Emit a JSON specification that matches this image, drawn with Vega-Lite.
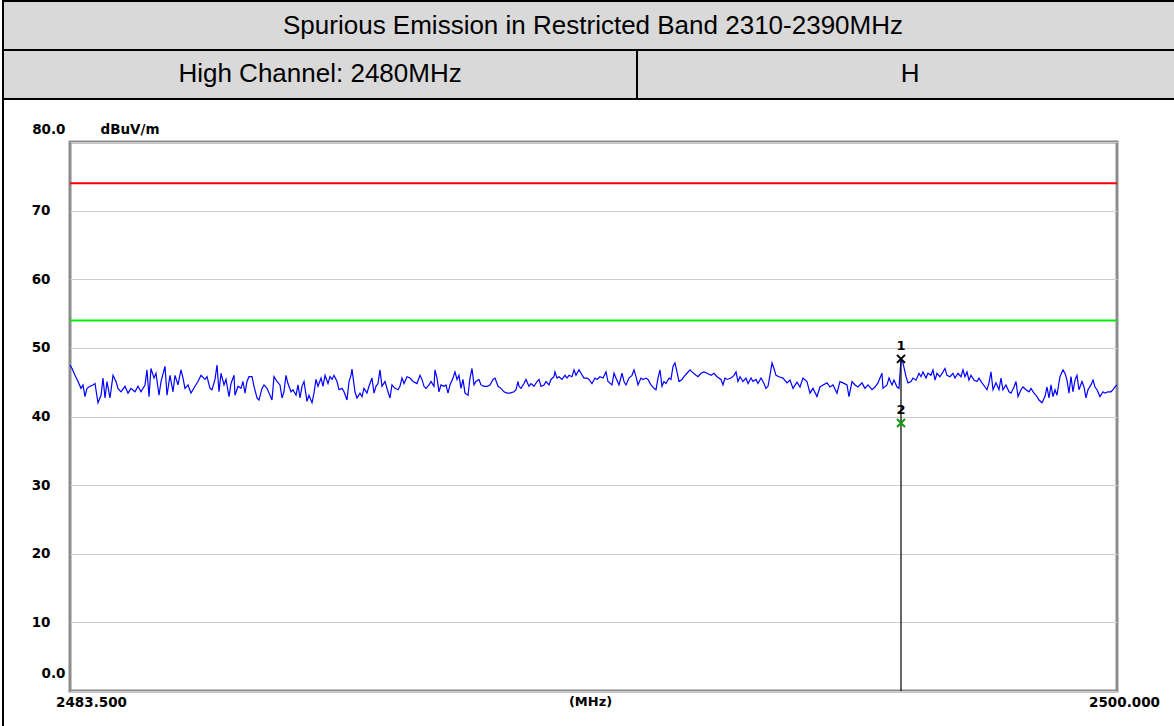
{
  "$schema": "https://vega.github.io/schema/vega-lite/v6.json",
  "background": "white",
  "autosize": {"type": "none"},
  "padding": {"left": 70, "top": 142, "right": 57, "bottom": 35},
  "width": 1047,
  "height": 549,
  "view": {"stroke": "#8c8c8c", "strokeWidth": 3, "fill": "white"},
  "datasets": {
    "table": [
      {"cell": "title", "text": "Spurious Emission in Restricted Band 2310-2390MHz", "x0": 0, "x1": 1, "y0": 0, "y1": 1, "xc": 0.5, "yc": 0.5},
      {"cell": "channel", "text": "High Channel: 2480MHz", "x0": 0, "x1": 0.5373, "y0": 1, "y1": 2, "xc": 0.2687, "yc": 1.5},
      {"cell": "polarity", "text": "H", "x0": 0.5373, "x1": 1, "y0": 1, "y1": 2, "xc": 0.7687, "yc": 1.5},
      {"cell": "body", "text": "", "x0": 0, "x1": 1, "y0": 2, "y1": 15, "xc": 0.5, "yc": 8}
    ],
    "limits": [
      {"limit": "Peak limit", "level": 74},
      {"limit": "AV limit", "level": 54}
    ],
    "markers": [
      {"marker": "1", "freq": 2496.596, "level": 48.4},
      {"marker": "2", "freq": 2496.596, "level": 39.05}
    ],
    "trace": [
      {"freq": 2483.500, "level": 47.5}, {"freq": 2483.532, "level": 47.0}, {"freq": 2483.579, "level": 46.0}, {"freq": 2483.626, "level": 45.1},
      {"freq": 2483.673, "level": 44.1}, {"freq": 2483.705, "level": 44.6}, {"freq": 2483.736, "level": 42.9}, {"freq": 2483.768, "level": 44.1},
      {"freq": 2483.815, "level": 44.4}, {"freq": 2483.862, "level": 44.6}, {"freq": 2483.894, "level": 44.8}, {"freq": 2483.941, "level": 42.0},
      {"freq": 2483.989, "level": 43.1}, {"freq": 2484.020, "level": 45.6}, {"freq": 2484.052, "level": 42.7}, {"freq": 2484.083, "level": 45.1},
      {"freq": 2484.130, "level": 42.7}, {"freq": 2484.178, "level": 46.0}, {"freq": 2484.225, "level": 45.1}, {"freq": 2484.256, "level": 44.1},
      {"freq": 2484.304, "level": 43.6}, {"freq": 2484.367, "level": 44.4}, {"freq": 2484.414, "level": 43.4}, {"freq": 2484.461, "level": 44.1},
      {"freq": 2484.524, "level": 43.6}, {"freq": 2484.572, "level": 44.4}, {"freq": 2484.619, "level": 43.6}, {"freq": 2484.682, "level": 44.6},
      {"freq": 2484.713, "level": 46.8}, {"freq": 2484.745, "level": 42.9}, {"freq": 2484.776, "level": 47.0}, {"freq": 2484.824, "level": 45.6},
      {"freq": 2484.855, "level": 46.3}, {"freq": 2484.903, "level": 43.1}, {"freq": 2484.934, "level": 45.1}, {"freq": 2484.997, "level": 47.3},
      {"freq": 2485.029, "level": 43.1}, {"freq": 2485.076, "level": 46.0}, {"freq": 2485.123, "level": 43.6}, {"freq": 2485.155, "level": 46.0},
      {"freq": 2485.202, "level": 44.6}, {"freq": 2485.249, "level": 46.8}, {"freq": 2485.281, "level": 45.6}, {"freq": 2485.312, "level": 44.1},
      {"freq": 2485.360, "level": 44.6}, {"freq": 2485.407, "level": 43.4}, {"freq": 2485.470, "level": 44.4}, {"freq": 2485.517, "level": 45.1},
      {"freq": 2485.564, "level": 46.0}, {"freq": 2485.627, "level": 45.4}, {"freq": 2485.659, "level": 45.8}, {"freq": 2485.706, "level": 44.1},
      {"freq": 2485.738, "level": 43.9}, {"freq": 2485.785, "level": 45.4}, {"freq": 2485.817, "level": 47.5}, {"freq": 2485.848, "level": 43.6},
      {"freq": 2485.880, "level": 46.3}, {"freq": 2485.927, "level": 44.6}, {"freq": 2485.958, "level": 45.4}, {"freq": 2486.006, "level": 42.9},
      {"freq": 2486.037, "level": 44.8}, {"freq": 2486.085, "level": 46.0}, {"freq": 2486.100, "level": 43.1}, {"freq": 2486.148, "level": 44.4},
      {"freq": 2486.195, "level": 44.1}, {"freq": 2486.226, "level": 45.1}, {"freq": 2486.258, "level": 43.4}, {"freq": 2486.289, "level": 45.1},
      {"freq": 2486.321, "level": 45.8}, {"freq": 2486.368, "level": 45.8}, {"freq": 2486.400, "level": 44.4}, {"freq": 2486.447, "level": 42.7},
      {"freq": 2486.478, "level": 42.4}, {"freq": 2486.526, "level": 44.1}, {"freq": 2486.557, "level": 44.6}, {"freq": 2486.604, "level": 44.1},
      {"freq": 2486.652, "level": 43.1}, {"freq": 2486.683, "level": 42.4}, {"freq": 2486.715, "level": 45.8}, {"freq": 2486.762, "level": 45.1},
      {"freq": 2486.809, "level": 44.6}, {"freq": 2486.841, "level": 42.7}, {"freq": 2486.872, "level": 43.6}, {"freq": 2486.904, "level": 46.0},
      {"freq": 2486.935, "level": 44.8}, {"freq": 2486.983, "level": 43.6}, {"freq": 2487.014, "level": 43.9}, {"freq": 2487.062, "level": 43.1},
      {"freq": 2487.093, "level": 44.6}, {"freq": 2487.125, "level": 42.7}, {"freq": 2487.156, "level": 44.4}, {"freq": 2487.188, "level": 45.1},
      {"freq": 2487.235, "level": 42.2}, {"freq": 2487.266, "level": 43.1}, {"freq": 2487.314, "level": 42.0}, {"freq": 2487.345, "level": 43.4},
      {"freq": 2487.377, "level": 45.4}, {"freq": 2487.408, "level": 44.4}, {"freq": 2487.456, "level": 45.6}, {"freq": 2487.487, "level": 44.4},
      {"freq": 2487.519, "level": 46.0}, {"freq": 2487.566, "level": 44.8}, {"freq": 2487.597, "level": 45.8}, {"freq": 2487.629, "level": 45.4},
      {"freq": 2487.660, "level": 46.0}, {"freq": 2487.708, "level": 45.1}, {"freq": 2487.739, "level": 43.9}, {"freq": 2487.786, "level": 44.1},
      {"freq": 2487.818, "level": 43.6}, {"freq": 2487.865, "level": 42.4}, {"freq": 2487.897, "level": 45.1}, {"freq": 2487.928, "level": 46.0},
      {"freq": 2487.944, "level": 46.9}, {"freq": 2487.991, "level": 43.6}, {"freq": 2488.023, "level": 42.7}, {"freq": 2488.070, "level": 43.4},
      {"freq": 2488.102, "level": 42.9}, {"freq": 2488.133, "level": 44.1}, {"freq": 2488.180, "level": 43.4}, {"freq": 2488.212, "level": 44.4},
      {"freq": 2488.259, "level": 45.6}, {"freq": 2488.291, "level": 43.4}, {"freq": 2488.322, "level": 44.4}, {"freq": 2488.354, "level": 44.8},
      {"freq": 2488.385, "level": 46.8}, {"freq": 2488.417, "level": 44.4}, {"freq": 2488.464, "level": 45.1}, {"freq": 2488.511, "level": 43.6},
      {"freq": 2488.543, "level": 42.7}, {"freq": 2488.574, "level": 44.6}, {"freq": 2488.622, "level": 44.1}, {"freq": 2488.669, "level": 43.9},
      {"freq": 2488.700, "level": 44.4}, {"freq": 2488.732, "level": 45.6}, {"freq": 2488.764, "level": 44.8}, {"freq": 2488.811, "level": 45.8},
      {"freq": 2488.858, "level": 45.6}, {"freq": 2488.905, "level": 45.1}, {"freq": 2488.968, "level": 44.8}, {"freq": 2489.016, "level": 46.0},
      {"freq": 2489.047, "level": 45.4}, {"freq": 2489.079, "level": 44.4}, {"freq": 2489.110, "level": 44.1}, {"freq": 2489.158, "level": 44.6},
      {"freq": 2489.189, "level": 45.1}, {"freq": 2489.236, "level": 44.4}, {"freq": 2489.252, "level": 46.8}, {"freq": 2489.284, "level": 45.6},
      {"freq": 2489.315, "level": 43.6}, {"freq": 2489.347, "level": 44.6}, {"freq": 2489.394, "level": 44.4}, {"freq": 2489.425, "level": 44.6},
      {"freq": 2489.457, "level": 43.4}, {"freq": 2489.488, "level": 44.6}, {"freq": 2489.536, "level": 45.6}, {"freq": 2489.567, "level": 46.5},
      {"freq": 2489.599, "level": 45.4}, {"freq": 2489.630, "level": 46.0}, {"freq": 2489.662, "level": 44.1}, {"freq": 2489.693, "level": 45.4},
      {"freq": 2489.725, "level": 43.4}, {"freq": 2489.772, "level": 43.1}, {"freq": 2489.804, "level": 45.6}, {"freq": 2489.835, "level": 47.0},
      {"freq": 2489.867, "level": 44.6}, {"freq": 2489.898, "level": 45.1}, {"freq": 2489.945, "level": 45.4}, {"freq": 2489.977, "level": 44.6},
      {"freq": 2490.024, "level": 44.4}, {"freq": 2490.072, "level": 44.4}, {"freq": 2490.119, "level": 44.6}, {"freq": 2490.166, "level": 45.4},
      {"freq": 2490.198, "level": 45.6}, {"freq": 2490.245, "level": 44.4}, {"freq": 2490.292, "level": 44.1}, {"freq": 2490.339, "level": 43.6},
      {"freq": 2490.387, "level": 43.4}, {"freq": 2490.434, "level": 43.4}, {"freq": 2490.497, "level": 43.6}, {"freq": 2490.529, "level": 43.9},
      {"freq": 2490.560, "level": 45.1}, {"freq": 2490.576, "level": 44.4}, {"freq": 2490.607, "level": 44.1}, {"freq": 2490.655, "level": 44.8},
      {"freq": 2490.686, "level": 45.4}, {"freq": 2490.733, "level": 44.4}, {"freq": 2490.765, "level": 44.8}, {"freq": 2490.812, "level": 44.4},
      {"freq": 2490.860, "level": 45.1}, {"freq": 2490.891, "level": 45.4}, {"freq": 2490.923, "level": 44.4}, {"freq": 2490.970, "level": 44.6},
      {"freq": 2491.001, "level": 45.1}, {"freq": 2491.049, "level": 44.6}, {"freq": 2491.080, "level": 45.4}, {"freq": 2491.127, "level": 45.8},
      {"freq": 2491.143, "level": 46.5}, {"freq": 2491.175, "level": 45.6}, {"freq": 2491.206, "level": 45.8}, {"freq": 2491.253, "level": 45.4},
      {"freq": 2491.301, "level": 46.0}, {"freq": 2491.332, "level": 45.6}, {"freq": 2491.364, "level": 46.0}, {"freq": 2491.411, "level": 45.8},
      {"freq": 2491.443, "level": 46.8}, {"freq": 2491.474, "level": 46.0}, {"freq": 2491.521, "level": 46.8}, {"freq": 2491.553, "level": 46.3},
      {"freq": 2491.600, "level": 45.6}, {"freq": 2491.647, "level": 45.6}, {"freq": 2491.679, "level": 45.4}, {"freq": 2491.726, "level": 44.8},
      {"freq": 2491.774, "level": 45.6}, {"freq": 2491.805, "level": 45.4}, {"freq": 2491.852, "level": 45.8}, {"freq": 2491.900, "level": 45.6},
      {"freq": 2491.947, "level": 46.5}, {"freq": 2491.978, "level": 45.1}, {"freq": 2492.041, "level": 44.6}, {"freq": 2492.073, "level": 46.3},
      {"freq": 2492.104, "level": 45.6}, {"freq": 2492.152, "level": 44.6}, {"freq": 2492.199, "level": 46.3}, {"freq": 2492.231, "level": 45.1},
      {"freq": 2492.262, "level": 44.6}, {"freq": 2492.309, "level": 45.6}, {"freq": 2492.357, "level": 46.0}, {"freq": 2492.388, "level": 46.8},
      {"freq": 2492.420, "level": 45.8}, {"freq": 2492.451, "level": 44.6}, {"freq": 2492.498, "level": 45.6}, {"freq": 2492.530, "level": 45.4},
      {"freq": 2492.577, "level": 45.6}, {"freq": 2492.609, "level": 45.4}, {"freq": 2492.656, "level": 44.6}, {"freq": 2492.703, "level": 44.1},
      {"freq": 2492.735, "level": 43.9}, {"freq": 2492.766, "level": 45.6}, {"freq": 2492.798, "level": 46.8}, {"freq": 2492.829, "level": 44.4},
      {"freq": 2492.861, "level": 45.1}, {"freq": 2492.892, "level": 44.8}, {"freq": 2492.940, "level": 45.6}, {"freq": 2492.971, "level": 45.4},
      {"freq": 2493.003, "level": 47.3}, {"freq": 2493.034, "level": 47.8}, {"freq": 2493.066, "level": 46.5}, {"freq": 2493.097, "level": 45.1},
      {"freq": 2493.145, "level": 45.4}, {"freq": 2493.176, "level": 45.8}, {"freq": 2493.223, "level": 46.3}, {"freq": 2493.271, "level": 46.8},
      {"freq": 2493.302, "level": 46.5}, {"freq": 2493.365, "level": 46.0}, {"freq": 2493.397, "level": 45.8}, {"freq": 2493.444, "level": 46.3},
      {"freq": 2493.491, "level": 46.5}, {"freq": 2493.539, "level": 46.3}, {"freq": 2493.602, "level": 46.0}, {"freq": 2493.649, "level": 46.3},
      {"freq": 2493.696, "level": 45.8}, {"freq": 2493.759, "level": 45.4}, {"freq": 2493.791, "level": 44.6}, {"freq": 2493.822, "level": 45.6},
      {"freq": 2493.854, "level": 45.4}, {"freq": 2493.917, "level": 45.6}, {"freq": 2493.964, "level": 46.0}, {"freq": 2493.996, "level": 46.5},
      {"freq": 2494.027, "level": 45.1}, {"freq": 2494.059, "level": 45.8}, {"freq": 2494.106, "level": 45.1}, {"freq": 2494.153, "level": 45.6},
      {"freq": 2494.185, "level": 44.8}, {"freq": 2494.232, "level": 45.6}, {"freq": 2494.263, "level": 45.1}, {"freq": 2494.311, "level": 45.4},
      {"freq": 2494.342, "level": 44.8}, {"freq": 2494.390, "level": 45.6}, {"freq": 2494.437, "level": 44.8}, {"freq": 2494.468, "level": 44.1},
      {"freq": 2494.500, "level": 44.4}, {"freq": 2494.531, "level": 46.0}, {"freq": 2494.563, "level": 47.8}, {"freq": 2494.594, "level": 47.0},
      {"freq": 2494.626, "level": 46.0}, {"freq": 2494.673, "level": 45.8}, {"freq": 2494.736, "level": 45.6}, {"freq": 2494.799, "level": 44.9},
      {"freq": 2494.847, "level": 45.3}, {"freq": 2494.894, "level": 44.1}, {"freq": 2494.957, "level": 45.0}, {"freq": 2495.004, "level": 44.3},
      {"freq": 2495.051, "level": 45.6}, {"freq": 2495.114, "level": 45.1}, {"freq": 2495.162, "level": 43.4}, {"freq": 2495.209, "level": 44.1},
      {"freq": 2495.272, "level": 42.9}, {"freq": 2495.319, "level": 44.3}, {"freq": 2495.367, "level": 44.6}, {"freq": 2495.430, "level": 44.9},
      {"freq": 2495.477, "level": 44.3}, {"freq": 2495.524, "level": 44.6}, {"freq": 2495.587, "level": 43.4}, {"freq": 2495.634, "level": 45.1},
      {"freq": 2495.682, "level": 44.9}, {"freq": 2495.745, "level": 44.6}, {"freq": 2495.776, "level": 42.9}, {"freq": 2495.824, "level": 45.1},
      {"freq": 2495.871, "level": 44.6}, {"freq": 2495.918, "level": 44.3}, {"freq": 2495.981, "level": 44.9}, {"freq": 2496.028, "level": 44.1},
      {"freq": 2496.076, "level": 44.6}, {"freq": 2496.139, "level": 43.9}, {"freq": 2496.186, "level": 44.3}, {"freq": 2496.233, "level": 44.9},
      {"freq": 2496.296, "level": 46.3}, {"freq": 2496.312, "level": 44.1}, {"freq": 2496.375, "level": 44.6}, {"freq": 2496.407, "level": 45.6},
      {"freq": 2496.454, "level": 44.6}, {"freq": 2496.485, "level": 45.3}, {"freq": 2496.533, "level": 44.3}, {"freq": 2496.564, "level": 44.1},
      {"freq": 2496.596, "level": 48.3}, {"freq": 2496.627, "level": 47.8}, {"freq": 2496.675, "level": 45.8}, {"freq": 2496.706, "level": 44.9},
      {"freq": 2496.753, "level": 45.1}, {"freq": 2496.785, "level": 45.6}, {"freq": 2496.832, "level": 45.3}, {"freq": 2496.879, "level": 46.3},
      {"freq": 2496.911, "level": 45.8}, {"freq": 2496.942, "level": 46.5}, {"freq": 2496.990, "level": 45.6}, {"freq": 2497.021, "level": 46.3},
      {"freq": 2497.068, "level": 46.0}, {"freq": 2497.100, "level": 46.8}, {"freq": 2497.132, "level": 45.3}, {"freq": 2497.163, "level": 46.3},
      {"freq": 2497.210, "level": 45.8}, {"freq": 2497.258, "level": 46.5}, {"freq": 2497.289, "level": 47.0}, {"freq": 2497.321, "level": 46.0},
      {"freq": 2497.368, "level": 45.8}, {"freq": 2497.415, "level": 46.3}, {"freq": 2497.447, "level": 45.6}, {"freq": 2497.494, "level": 46.3},
      {"freq": 2497.541, "level": 45.8}, {"freq": 2497.573, "level": 46.8}, {"freq": 2497.604, "level": 45.8}, {"freq": 2497.636, "level": 46.5},
      {"freq": 2497.667, "level": 45.3}, {"freq": 2497.699, "level": 46.0}, {"freq": 2497.746, "level": 45.3}, {"freq": 2497.793, "level": 45.1},
      {"freq": 2497.825, "level": 45.6}, {"freq": 2497.872, "level": 44.9}, {"freq": 2497.920, "level": 44.3}, {"freq": 2497.951, "level": 43.9},
      {"freq": 2497.983, "level": 44.9}, {"freq": 2498.014, "level": 46.5}, {"freq": 2498.046, "level": 43.9}, {"freq": 2498.093, "level": 44.9},
      {"freq": 2498.140, "level": 43.9}, {"freq": 2498.172, "level": 45.6}, {"freq": 2498.203, "level": 43.9}, {"freq": 2498.250, "level": 44.6},
      {"freq": 2498.298, "level": 43.6}, {"freq": 2498.329, "level": 43.4}, {"freq": 2498.377, "level": 44.3}, {"freq": 2498.408, "level": 45.1},
      {"freq": 2498.440, "level": 42.9}, {"freq": 2498.487, "level": 43.9}, {"freq": 2498.518, "level": 44.3}, {"freq": 2498.566, "level": 43.9},
      {"freq": 2498.613, "level": 43.6}, {"freq": 2498.644, "level": 44.1}, {"freq": 2498.692, "level": 43.4}, {"freq": 2498.739, "level": 42.9},
      {"freq": 2498.771, "level": 42.4}, {"freq": 2498.818, "level": 42.0}, {"freq": 2498.865, "level": 42.9}, {"freq": 2498.897, "level": 44.3},
      {"freq": 2498.928, "level": 42.7}, {"freq": 2498.960, "level": 44.6}, {"freq": 2498.991, "level": 42.9}, {"freq": 2499.023, "level": 43.9},
      {"freq": 2499.054, "level": 43.1}, {"freq": 2499.101, "level": 45.8}, {"freq": 2499.149, "level": 46.8}, {"freq": 2499.180, "level": 46.3},
      {"freq": 2499.212, "level": 45.3}, {"freq": 2499.243, "level": 43.4}, {"freq": 2499.275, "level": 45.8}, {"freq": 2499.306, "level": 43.6},
      {"freq": 2499.338, "level": 45.3}, {"freq": 2499.369, "level": 46.0}, {"freq": 2499.401, "level": 43.9}, {"freq": 2499.448, "level": 45.1},
      {"freq": 2499.480, "level": 44.3}, {"freq": 2499.511, "level": 42.7}, {"freq": 2499.543, "level": 43.9}, {"freq": 2499.590, "level": 44.6},
      {"freq": 2499.622, "level": 45.3}, {"freq": 2499.653, "level": 44.3}, {"freq": 2499.685, "level": 43.9}, {"freq": 2499.732, "level": 42.9},
      {"freq": 2499.779, "level": 43.6}, {"freq": 2499.811, "level": 43.4}, {"freq": 2499.858, "level": 43.6}, {"freq": 2499.905, "level": 43.6},
      {"freq": 2499.937, "level": 43.9}, {"freq": 2499.968, "level": 44.3}, {"freq": 2500.000, "level": 44.6}
    ]
  },
  "resolve": {"scale": {"x": "independent", "y": "independent", "color": "independent"}},
  "layer": [
    {
      "data": {"name": "table"},
      "encoding": {
        "x": {"field": "x0", "type": "quantitative", "axis": null, "scale": {"domain": [0.05678, 0.94407], "nice": false, "zero": false}},
        "y": {"field": "y0", "type": "quantitative", "axis": null, "scale": {"domain": [2.8776, 14.082], "nice": false, "zero": false, "reverse": true}}
      },
      "layer": [
        {
          "transform": [{"filter": "datum.cell != 'body'"}],
          "mark": {"type": "rect", "fill": "#d9d9d9", "stroke": "black", "strokeWidth": 2, "clip": false},
          "encoding": {
            "x2": {"field": "x1"},
            "y2": {"field": "y1"}
          }
        },
        {
          "transform": [{"filter": "datum.cell == 'body'"}],
          "mark": {"type": "rect", "fill": null, "fillOpacity": 0, "stroke": "black", "strokeWidth": 2, "clip": false},
          "encoding": {
            "x2": {"field": "x1"},
            "y2": {"field": "y1"}
          }
        },
        {
          "transform": [{"filter": "datum.cell != 'body'"}],
          "mark": {"type": "text", "font": "Liberation Sans", "fontSize": 26, "color": "black", "align": "center", "baseline": "middle", "clip": false},
          "encoding": {
            "x": {"field": "xc", "type": "quantitative"},
            "y": {"field": "yc", "type": "quantitative"},
            "text": {"field": "text"}
          }
        }
      ]
    },
    {
      "data": {"name": "limits"},
      "mark": {"type": "rule", "strokeWidth": 2},
      "encoding": {
        "y": {"field": "level", "type": "quantitative", "axis": null, "scale": {"domain": [0, 80], "nice": false, "zero": false}},
        "color": {"field": "limit", "type": "nominal", "scale": {"domain": ["Peak limit", "AV limit"], "range": ["#ff0000", "#00ee00"]}, "legend": null}
      }
    },
    {
      "encoding": {
        "x": {
          "field": "freq", "type": "quantitative",
          "scale": {"domain": [2483.5, 2500], "nice": false, "zero": false},
          "axis": {
            "orient": "bottom",
            "values": [2483.5, 2500],
            "labelExpr": "format(datum.value, '.3f')",
            "domain": false, "ticks": false, "grid": false,
            "labelFont": "DejaVu Sans", "labelFontWeight": "bold", "labelFontSize": 13.5, "labelColor": "black",
            "labelBaseline": "top", "labelPadding": 4, "labelFlush": false, "labelOverlap": false, "labelBound": false,
            "labelAlign": "center",
            "labelOffset": {"condition": {"test": "datum.value < 2490", "value": 21}, "value": 7},
            "title": "(MHz)", "titleX": 520, "titleY": 10, "titleAlign": "center", "titleBaseline": "middle",
            "titleFont": "DejaVu Sans", "titleFontWeight": "bold", "titleFontSize": 13, "titleColor": "black"
          }
        },
        "y": {
          "field": "level", "type": "quantitative",
          "scale": {"domain": [0, 80], "nice": false, "zero": false},
          "axis": {
            "orient": "left",
            "values": [0, 10, 20, 30, 40, 50, 60, 70, 80],
            "labelExpr": "datum.value == 80 ? '80.0' : datum.value == 0 ? '0.0' : datum.label",
            "domain": false, "ticks": false, "grid": true, "gridColor": "#cccccc", "gridWidth": 1.2,
            "labelFont": "DejaVu Sans", "labelFontWeight": "bold", "labelFontSize": 13.5, "labelColor": "black",
            "labelAlign": "right", "labelBaseline": "middle", "labelOverlap": false, "labelBound": false, "labelFlush": false,
            "labelPadding": {"condition": {"test": "datum.value == 80 || datum.value == 0", "value": 5}, "value": 20},
            "labelOffset": {"condition": [{"test": "datum.value == 80", "value": -13}, {"test": "datum.value == 0", "value": -18}], "value": 0},
            "title": "dBuV/m", "titleAngle": 0, "titleX": 30, "titleY": -13, "titleAlign": "left", "titleBaseline": "middle",
            "titleFont": "DejaVu Sans", "titleFontWeight": "bold", "titleFontSize": 13.5, "titleColor": "black"
          }
        }
      },
      "layer": [
        {
          "data": {"name": "trace"},
          "mark": {"type": "line", "color": "#0000ff", "strokeWidth": 1.2, "interpolate": "linear"},
          "encoding": {}
        },
        {
          "data": {"name": "markers"},
          "transform": [{"filter": "datum.marker == '1'"}],
          "mark": {"type": "rule", "color": "black", "strokeWidth": 1.2},
          "encoding": {
            "y2": {"datum": 0}
          }
        },
        {
          "data": {"name": "markers"},
          "mark": {"type": "point", "shape": "M-1,-1L1,1M-1,1L1,-1", "filled": false, "strokeWidth": 2, "size": 64, "opacity": 1},
          "encoding": {
            "color": {"field": "marker", "type": "nominal", "scale": {"domain": ["1", "2"], "range": ["black", "#119911"]}, "legend": null}
          }
        },
        {
          "data": {"name": "markers"},
          "mark": {"type": "text", "font": "DejaVu Sans", "fontWeight": "bold", "fontSize": 13, "color": "black", "dy": -13, "align": "center", "baseline": "middle"},
          "encoding": {
            "text": {"field": "marker"}
          }
        }
      ]
    }
  ]
}
